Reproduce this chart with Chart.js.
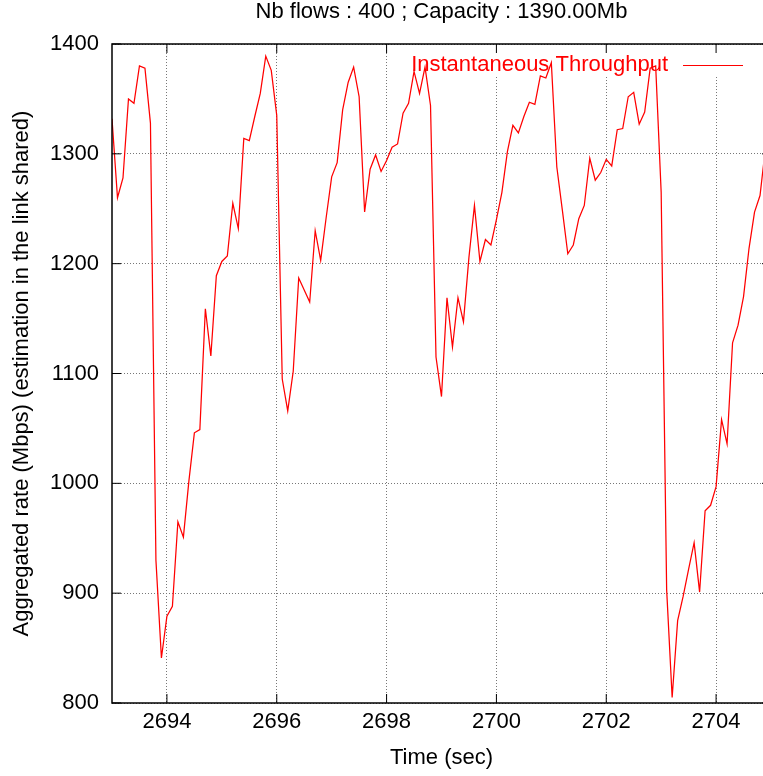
<!DOCTYPE html>
<html>
<head>
<meta charset="utf-8">
<title>Instantaneous Throughput</title>
<script src="https://cdn.jsdelivr.net/npm/chart.js@4.4.1/dist/chart.umd.min.js"></script>
<style>
  html, body { margin: 0; padding: 0; background: #fff; overflow: hidden; }
  #wrap { width: 763px; height: 776px; overflow: hidden; }
</style>
</head>
<body>
<div id="wrap"><canvas id="chart" width="780" height="776"></canvas></div>
<script>
// Chart data (one sample every 0.1 s)
const chartTitle = 'Nb flows : 400 ; Capacity : 1390.00Mb';
const seriesLabel = 'Instantaneous Throughput';

const times = [
  2693.0, 2693.1, 2693.2, 2693.3, 2693.4, 2693.5, 2693.6, 2693.7, 2693.8, 2693.9,
  2694.0, 2694.1, 2694.2, 2694.3, 2694.4, 2694.5, 2694.6, 2694.7, 2694.8, 2694.9,
  2695.0, 2695.1, 2695.2, 2695.3, 2695.4, 2695.5, 2695.6, 2695.7, 2695.8, 2695.9,
  2696.0, 2696.1, 2696.2, 2696.3, 2696.4, 2696.5, 2696.6, 2696.7, 2696.8, 2696.9,
  2697.0, 2697.1, 2697.2, 2697.3, 2697.4, 2697.5, 2697.6, 2697.7, 2697.8, 2697.9,
  2698.0, 2698.1, 2698.2, 2698.3, 2698.4, 2698.5, 2698.6, 2698.7, 2698.8, 2698.9,
  2699.0, 2699.1, 2699.2, 2699.3, 2699.4, 2699.5, 2699.6, 2699.7, 2699.8, 2699.9,
  2700.0, 2700.1, 2700.2, 2700.3, 2700.4, 2700.5, 2700.6, 2700.7, 2700.8, 2700.9,
  2701.0, 2701.1, 2701.2, 2701.3, 2701.4, 2701.5, 2701.6, 2701.7, 2701.8, 2701.9,
  2702.0, 2702.1, 2702.2, 2702.3, 2702.4, 2702.5, 2702.6, 2702.7, 2702.8, 2702.9,
  2703.0, 2703.1, 2703.2, 2703.3, 2703.4, 2703.5, 2703.6, 2703.7, 2703.8, 2703.9,
  2704.0, 2704.1, 2704.2, 2704.3, 2704.4, 2704.5, 2704.6, 2704.7, 2704.8, 2704.9
];

const throughput = [
  1332, 1260, 1278, 1350, 1346, 1380, 1378, 1328, 930, 841,
  879, 888, 965, 951, 1002, 1046, 1049, 1159, 1116, 1189,
  1202, 1207, 1255, 1232, 1314, 1312, 1334, 1355, 1389, 1376,
  1335, 1095, 1066, 1102, 1187, 1176, 1165, 1230, 1203, 1242,
  1279, 1292, 1340, 1365, 1379, 1352, 1247, 1286, 1299, 1284,
  1294, 1306, 1309, 1337, 1346, 1375, 1355, 1379, 1344, 1115,
  1079, 1169, 1124, 1169, 1147, 1206, 1253, 1202, 1222, 1217,
  1240, 1265, 1302, 1326, 1319, 1334, 1347, 1345, 1371, 1369,
  1383, 1288, 1249, 1209, 1217, 1241, 1253, 1296, 1276, 1283,
  1295, 1289, 1322, 1323, 1352, 1356, 1327, 1338, 1378, 1380,
  1265, 903, 805, 875, 897, 922, 946, 901, 975, 980,
  997, 1058, 1036, 1128, 1144, 1170, 1214, 1247, 1262, 1306
];

const xTicks = [2694, 2696, 2698, 2700, 2702, 2704];
const yTicks = [800, 900, 1000, 1100, 1200, 1300, 1400];
const xRange = [2693, 2705];
const yRange = [800, 1400];

const FONT = '"Liberation Sans", Arial, Helvetica, sans-serif';
const RED = '#ff0000';

// Frame, inward ticks, title and key drawn the gnuplot way
const gnuplotLook = {
  id: 'gnuplotLook',
  beforeDatasetsDraw(chart) {
    const { ctx, chartArea } = chart;
    // the key box hides the grid behind it
    ctx.save();
    ctx.fillStyle = '#fff';
    ctx.fillRect(chartArea.left + 288, chartArea.top + 1, chartArea.right - chartArea.left - 288, 31);
    ctx.restore();
  },
  afterDraw(chart) {
    const { ctx, chartArea, scales } = chart;
    const { left, right, top, bottom } = chartArea;
    const tick = 9;

    ctx.save();
    ctx.strokeStyle = '#000';
    ctx.lineWidth = 1.5;
    ctx.strokeRect(left, top, right - left, bottom - top);

    ctx.beginPath();
    xTicks.forEach(v => {
      const px = scales.x.getPixelForValue(v);
      ctx.moveTo(px, bottom); ctx.lineTo(px, bottom - tick);
      ctx.moveTo(px, top); ctx.lineTo(px, top + tick);
    });
    yTicks.forEach(v => {
      const py = scales.y.getPixelForValue(v);
      ctx.moveTo(left, py); ctx.lineTo(left + tick, py);
      ctx.moveTo(right, py); ctx.lineTo(right - tick, py);
    });
    ctx.lineWidth = 1;
    ctx.stroke();

    // title, centred on the plot
    ctx.fillStyle = '#000';
    ctx.font = '22px ' + FONT;
    ctx.textAlign = 'center';
    ctx.textBaseline = 'middle';
    ctx.fillText(chartTitle, (left + right) / 2, 12);

    // key
    const ds = chart.data.datasets[0];
    ctx.fillStyle = ds.borderColor;
    ctx.textAlign = 'right';
    ctx.fillText(ds.label, right - 103, top + 21);
    ctx.strokeStyle = ds.borderColor;
    ctx.lineWidth = 1;
    ctx.beginPath();
    ctx.moveTo(right - 88, top + 21.5);
    ctx.lineTo(right - 28, top + 21.5);
    ctx.stroke();
    ctx.restore();
  }
};

const ctx = document.getElementById('chart');

new Chart(ctx, {
  type: 'line',
  data: {
    datasets: [{
      label: seriesLabel,
      data: times.map((t, i) => ({ x: t, y: throughput[i] })),
      borderColor: RED,
      borderWidth: 1.25,
      pointRadius: 0,
      tension: 0,
      fill: false
    }]
  },
  options: {
    responsive: false,
    animation: false,
    devicePixelRatio: 1,
    layout: { padding: { top: 44, right: 9, bottom: 0, left: 0 } },
    plugins: {
      legend: { display: false },
      title: { display: false },
      tooltip: { enabled: false }
    },
    scales: {
      x: {
        type: 'linear',
        min: xRange[0],
        max: xRange[1],
        afterBuildTicks: scale => { scale.ticks = xTicks.map(v => ({ value: v })); },
        afterFit: scale => { scale.height = 73; },
        ticks: {
          color: '#000',
          padding: 6,
          maxRotation: 0,
          font: { family: FONT, size: 22 },
          callback: v => String(v)
        },
        grid: { color: '#777', drawTicks: false, lineWidth: 1 },
        border: { display: false, dash: [1, 2] },
        title: {
          display: true,
          text: 'Time (sec)',
          color: '#000',
          font: { family: FONT, size: 22 },
          padding: { top: 0, bottom: 5 }
        }
      },
      y: {
        type: 'linear',
        min: yRange[0],
        max: yRange[1],
        afterBuildTicks: scale => { scale.ticks = yTicks.map(v => ({ value: v })); },
        afterFit: scale => { scale.width = 112; },
        ticks: {
          color: '#000',
          padding: 13,
          font: { family: FONT, size: 22 },
          callback: v => String(v)
        },
        grid: { color: '#777', drawTicks: false, lineWidth: 1 },
        border: { display: false, dash: [1, 2] },
        title: {
          display: true,
          text: 'Aggregated rate (Mbps) (estimation in the link shared)',
          color: '#000',
          font: { family: FONT, size: 22 },
          padding: { top: 9, bottom: 0 }
        }
      }
    }
  },
  plugins: [gnuplotLook]
});
</script>
</body>
</html>
